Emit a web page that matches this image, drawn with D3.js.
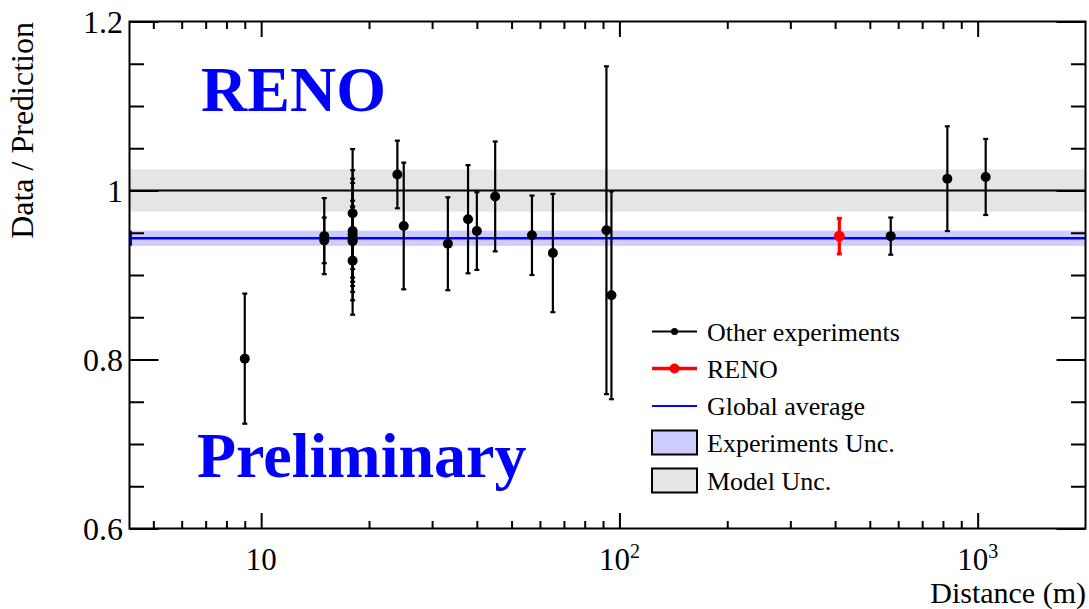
<!DOCTYPE html>
<html>
<head>
<meta charset="utf-8">
<script src="https://cdn.jsdelivr.net/npm/d3@7"></script>
<style>
  body { margin: 0; background: #fff; }
  svg { display: block; }
  text { font-family: "Liberation Serif", "Times New Roman", serif; fill: #000; }
</style>
</head>
<body>
<svg id="chart" width="1089" height="609"></svg>
<script>
// Other experiments: distance (m), data/prediction ratio, symmetric error
const otherDist  = [9, 15, 15, 18, 18, 18, 18, 18, 18, 18, 24, 25, 33.2, 37.8, 40, 45, 57, 65.2, 92, 95, 572, 823, 1053];
const otherRatio = [0.801, 0.946, 0.941, 0.973, 0.952, 0.942, 0.948, 0.940, 0.944, 0.917, 1.019, 0.958, 0.937, 0.966, 0.952, 0.993, 0.947, 0.926, 0.953, 0.876, 0.946, 1.014, 1.016];
const otherErr   = [0.077, 0.045, 0.027, 0.076, 0.072, 0.072, 0.061, 0.048, 0.037, 0.064, 0.040, 0.075, 0.055, 0.064, 0.046, 0.065, 0.047, 0.070, 0.194, 0.123, 0.022, 0.062, 0.045];

// RENO
const renoDist  = [411];
const renoRatio = [0.946];
const renoErr   = [0.021];

// Global average and uncertainties
const globalAvg    = 0.9435;
const globalAvgErr = 0.009;
const modelCenter  = 1.0;
const modelErr     = 0.025;

// Axes
const xDomain    = [4.29, 2000];
const yDomain    = [0.6, 1.2];
const yMajor     = [0.6, 0.8, 1.0, 1.2];
const xMajor     = [10, 100, 1000];
const xMajorBase = ['10', '10', '10'];
const xMajorExp  = ['', '2', '3'];

const legendLabels = ['Other experiments', 'RENO', 'Global average', 'Experiments Unc.', 'Model Unc.'];

const W = 1089, H = 609;
const margin = { top: 21.5, right: 3.5, bottom: 80.5, left: 129.5 };

const svg = d3.select('#chart');

const x = d3.scaleLog().domain(xDomain).range([margin.left, W - margin.right]);
const y = d3.scaleLinear().domain(yDomain).range([H - margin.bottom, margin.top]);

const x0 = x.range()[0], x1 = x.range()[1];
const yTop = y.range()[1], yBot = y.range()[0];

// Bands
svg.append('rect')
  .attr('x', x0).attr('width', x1 - x0)
  .attr('y', y(modelCenter + modelErr)).attr('height', y(modelCenter - modelErr) - y(modelCenter + modelErr))
  .attr('fill', '#e5e5e5');
svg.append('rect')
  .attr('x', x0).attr('width', x1 - x0)
  .attr('y', y(globalAvg + globalAvgErr)).attr('height', y(globalAvg - globalAvgErr) - y(globalAvg + globalAvgErr))
  .attr('fill', '#ccccff');

// Lines
svg.append('line')
  .attr('x1', x0).attr('x2', x1).attr('y1', y(modelCenter)).attr('y2', y(modelCenter))
  .attr('stroke', '#000').attr('stroke-width', 2);
svg.append('line')
  .attr('x1', x0).attr('x2', x1).attr('y1', y(globalAvg)).attr('y2', y(globalAvg))
  .attr('stroke', '#0000ff').attr('stroke-width', 2.5);
// little error mark of the average at the left edge
svg.append('line')
  .attr('x1', x0 + 1.5).attr('x2', x0 + 1.5)
  .attr('y1', y(globalAvg + globalAvgErr)).attr('y2', y(globalAvg - globalAvgErr))
  .attr('stroke', '#0000ff').attr('stroke-width', 2);

// Axes (ticks inward, mirrored on top and right)
const minorX = [];
[1, 10, 100, 1000].forEach(dec => {
  for (let k = 2; k <= 9; k++) {
    const v = dec * k;
    if (v > xDomain[0] && v < xDomain[1] && !xMajor.includes(v)) minorX.push(v);
  }
});
const minorY = d3.range(0.65, 1.2, 0.05).map(v => +v.toFixed(2)).filter(v => !yMajor.some(m => Math.abs(m - v) < 1e-6));

function tickAxis(axis, tr) {
  const g = svg.append('g').attr('transform', tr).call(axis);
  g.select('.domain').remove();
  g.selectAll('line').attr('stroke', '#000').attr('stroke-width', 2);
  return g;
}
tickAxis(d3.axisBottom(x).tickValues(xMajor).tickSize(-15.5).tickFormat(''), `translate(0,${yBot})`);
tickAxis(d3.axisBottom(x).tickValues(minorX).tickSize(-7.5).tickFormat(''), `translate(0,${yBot})`);
tickAxis(d3.axisTop(x).tickValues(xMajor).tickSize(-15.5).tickFormat(''), `translate(0,${yTop})`);
tickAxis(d3.axisTop(x).tickValues(minorX).tickSize(-7.5).tickFormat(''), `translate(0,${yTop})`);
tickAxis(d3.axisLeft(y).tickValues(yMajor).tickSize(-29).tickFormat(''), `translate(${x0},0)`);
tickAxis(d3.axisLeft(y).tickValues(minorY).tickSize(-14.5).tickFormat(''), `translate(${x0},0)`);
tickAxis(d3.axisRight(y).tickValues(yMajor).tickSize(-29).tickFormat(''), `translate(${x1},0)`);
tickAxis(d3.axisRight(y).tickValues(minorY).tickSize(-14.5).tickFormat(''), `translate(${x1},0)`);

// Frame
svg.append('rect')
  .attr('x', x0).attr('y', yTop).attr('width', x1 - x0).attr('height', yBot - yTop)
  .attr('fill', 'none').attr('stroke', '#000').attr('stroke-width', 2);

// Tick labels
const fmtY = d => (d === 1 ? '1' : d.toFixed(1));
svg.append('g').selectAll('text').data(yMajor).join('text')
  .attr('x', 123).attr('y', d => y(d) + 11)
  .attr('text-anchor', 'end').attr('font-size', 32)
  .text(fmtY);

const xl = svg.append('g').selectAll('text').data(xMajor).join('text')
  .attr('x', d => x(d)).attr('y', 570)
  .attr('text-anchor', 'middle').attr('font-size', 31);
xl.append('tspan').text((d, i) => xMajorBase[i]);
xl.append('tspan').attr('dy', -12).attr('font-size', 20).text((d, i) => xMajorExp[i]);

// Axis titles
svg.append('text')
  .attr('x', W - 3).attr('y', 603)
  .attr('text-anchor', 'end').attr('font-size', 30)
  .text('Distance (m)');
svg.append('text')
  .attr('transform', 'rotate(-90)')
  .attr('x', -22).attr('y', 33)
  .attr('text-anchor', 'end').attr('font-size', 32)
  .text('Data / Prediction');

// Data points with error bars
function drawPoints(dist, ratio, err, color, r, sw, cap) {
  const g = svg.append('g');
  dist.forEach((d, i) => {
    const cx = x(d);
    g.append('line')
      .attr('x1', cx).attr('x2', cx)
      .attr('y1', y(ratio[i] + err[i])).attr('y2', y(ratio[i] - err[i]))
      .attr('stroke', color).attr('stroke-width', sw);
    [ratio[i] + err[i], ratio[i] - err[i]].forEach(v => {
      g.append('line')
        .attr('x1', cx - cap).attr('x2', cx + cap)
        .attr('y1', y(v)).attr('y2', y(v))
        .attr('stroke', color).attr('stroke-width', sw);
    });
  });
  dist.forEach((d, i) => {
    g.append('circle').attr('cx', x(d)).attr('cy', y(ratio[i])).attr('r', r).attr('fill', color);
  });
}
drawPoints(otherDist, otherRatio, otherErr, '#000', 5, 2.2, 2.5);
drawPoints(renoDist, renoRatio, renoErr, '#ff0000', 5.5, 3.2, 2.5);

// Big labels
svg.append('text')
  .attr('x', 201).attr('y', 111)
  .attr('font-size', 64).attr('font-weight', 'bold')
  .style('fill', '#0000ff')
  .text('RENO');
svg.append('text')
  .attr('x', 197).attr('y', 476.5)
  .attr('font-size', 64).attr('font-weight', 'bold')
  .style('fill', '#0000ff')
  .text('Preliminary');

// Legend
const lg = svg.append('g');
const lx0 = 652, lx1 = 697, ltx = 707;
const rowY = [331.5, 368.5, 406, 442.5, 480.5];
legendLabels.forEach((label, i) => {
  const cy = rowY[i];
  if (i === 0 || i === 1 || i === 2) {
    const color = i === 0 ? '#000' : i === 1 ? '#ff0000' : '#0000ff';
    lg.append('line').attr('x1', lx0).attr('x2', lx1).attr('y1', cy).attr('y2', cy)
      .attr('stroke', color).attr('stroke-width', i === 1 ? 3.5 : 2);
    if (i < 2) lg.append('circle').attr('cx', (lx0 + lx1) / 2).attr('cy', cy).attr('r', i === 1 ? 5 : 3.5).attr('fill', color);
  } else {
    lg.append('rect').attr('x', lx0).attr('y', cy - 12).attr('width', lx1 - lx0).attr('height', 24)
      .attr('fill', i === 3 ? '#ccccff' : '#e5e5e5').attr('stroke', '#000').attr('stroke-width', 2);
  }
  lg.append('text').attr('x', ltx).attr('y', cy + 9).attr('font-size', 26).text(label);
});
</script>
</body>
</html>
